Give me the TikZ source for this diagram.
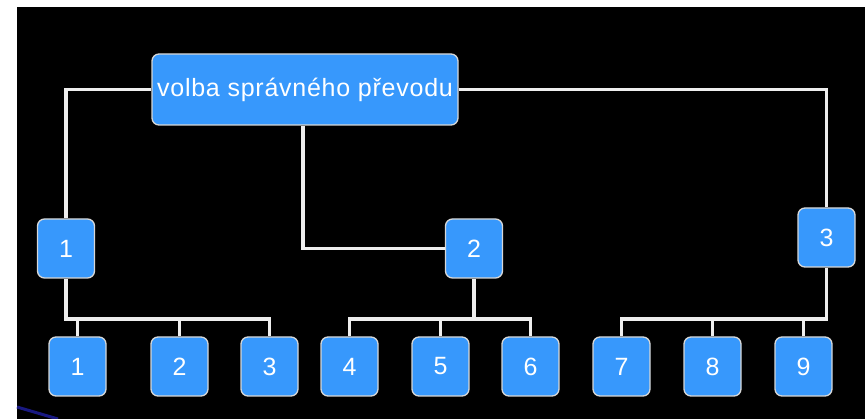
\documentclass[tikz,border=0pt]{standalone}
\usepackage{fontspec}
\setmainfont{Liberation Sans}
\definecolor{boxblue}{RGB}{55,152,252}
\definecolor{boxedge}{RGB}{215,215,215}
\definecolor{linegray}{RGB}{238,238,238}
\definecolor{navyart}{RGB}{25,25,130}
\begin{document}
\begin{tikzpicture}[x=1pt,y=-1pt,
  box/.style={draw=boxedge, line width=1.3pt, fill=boxblue, rounded corners=7pt,
    text=white, font=\fontsize{25}{30}\selectfont, inner sep=0pt},
  small/.style={box, minimum width=57pt, minimum height=59pt},
  conn/.style={draw=linegray, line width=3.6pt, line join=miter}]
\useasboundingbox (0,0) rectangle (865,419);
\fill[white] (0,0) rectangle (865,419);
\fill[black] (17,7) rectangle (865,419);
\draw[navyart, line width=3pt] (17,407) -- (58,419);
\coordinate (busy) at (0,319);
\node[box, minimum width=306pt, minimum height=71pt] (root) at (305,89.5)
  {\addfontfeatures{LetterSpace=3}volba správného převodu};
\node[small] (l1) at (66,248.5) {1};
\node[small] (m2) at (474,248.5) {2};
\node[small] (r3) at (826.5,237.5) {3};
\node[small] (b1) at (77.5,366.5) {1};
\node[small] (b2) at (179.5,366.5) {2};
\node[small] (b3) at (269.5,366.5) {3};
\node[small] (b4) at (349.5,366.5) {4};
\node[small] (b5) at (440.5,366.5) {5};
\node[small] (b6) at (530.5,366.5) {6};
\node[small] (b7) at (621.5,366.5) {7};
\node[small] (b8) at (712.5,366.5) {8};
\node[small] (b9) at (803.5,366.5) {9};
\draw[conn] (root.west) -| (l1.north);
\draw[conn] (root.east) -| (r3.north);
\draw[conn] ([xshift=-2pt]root.south) |- (m2.west);
\draw[conn] (l1.south) |- (b3.north |- busy) -- (b3.north);
\draw[conn] (b1.north) -- (b1.north |- busy);
\draw[conn] (b2.north) -- (b2.north |- busy);
\draw[conn] (m2.south) -- (m2.south |- busy);
\draw[conn] (b4.north) |- (b6.north |- busy) -- (b6.north);
\draw[conn] (b5.north) -- (b5.north |- busy);
\draw[conn] (r3.south) |- (b7.north |- busy) -- (b7.north);
\draw[conn] (b8.north) -- (b8.north |- busy);
\draw[conn] (b9.north) -- (b9.north |- busy);
\end{tikzpicture}
\end{document}
